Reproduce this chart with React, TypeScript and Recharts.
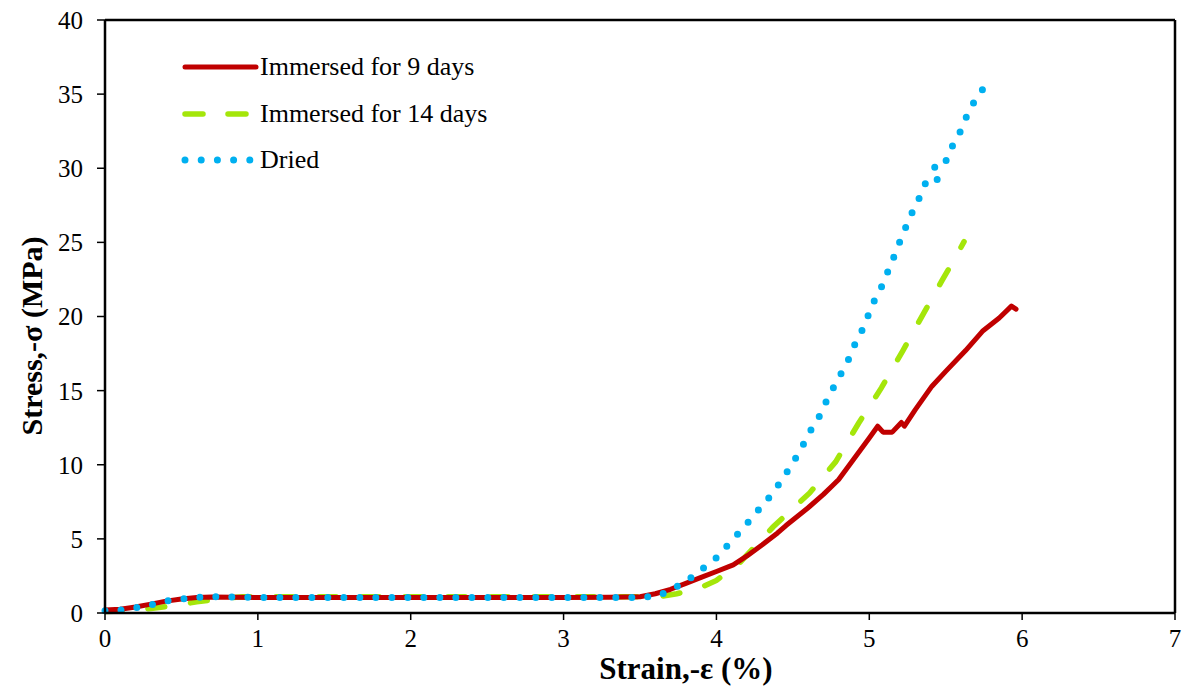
import {
  LineChart,
  Line,
  XAxis,
  YAxis,
  ReferenceLine,
} from "recharts"

// Immersed for 9 days
const red_x = [0, 0.1, 0.2, 0.3, 0.4, 0.5, 0.6, 0.7, 1.0, 1.5, 2.0, 2.5, 3.0, 3.3, 3.5, 3.6, 3.7, 3.8, 3.9, 4.0, 4.11, 4.2, 4.3, 4.4, 4.455, 4.5, 4.6, 4.7, 4.76, 4.8, 4.9, 5.0, 5.055, 5.09, 5.15, 5.21, 5.23, 5.3, 5.41, 5.5, 5.63, 5.74, 5.85, 5.93, 5.96]
const red_y = [0.2, 0.25, 0.4, 0.6, 0.8, 0.95, 1.05, 1.08, 1.05, 1.05, 1.05, 1.05, 1.05, 1.07, 1.1, 1.3, 1.6, 2.0, 2.4, 2.8, 3.25, 3.85, 4.6, 5.4, 5.9, 6.27, 7.1, 8.0, 8.6, 9.0, 10.4, 11.8, 12.6, 12.2, 12.2, 12.85, 12.6, 13.7, 15.3, 16.3, 17.7, 19.0, 19.9, 20.7, 20.5]

// Immersed for 14 days
const green_x = [0, 0.15, 0.3, 0.45, 0.6, 0.75, 0.9, 1.5, 2.0, 2.5, 3.0, 3.5, 3.65, 3.74, 3.8, 3.91, 4.0, 4.15, 4.37, 4.61, 4.78, 4.93, 5.08, 5.22, 5.36, 5.48, 5.57, 5.62]
const green_y = [0.1, 0.15, 0.3, 0.5, 0.75, 0.95, 1.1, 1.1, 1.1, 1.1, 1.1, 1.1, 1.15, 1.3, 1.45, 1.78, 2.2, 3.37, 5.8, 8.1, 10.2, 12.8, 15.2, 17.7, 20.3, 22.5, 24.1, 25.05]

// Dried
const blue_x = [0, 0.1, 0.2, 0.3, 0.4, 0.5, 0.65, 1.0, 1.5, 2.0, 2.5, 3.0, 3.5, 3.62, 3.72, 3.81, 3.89, 3.98, 4.05, 4.12, 4.19, 4.26, 4.33, 4.39, 4.455, 4.51, 4.56, 4.61, 4.67, 4.71, 4.76, 4.81, 4.86, 4.9, 4.95, 4.99, 5.03, 5.08, 5.12, 5.16, 5.2, 5.24, 5.28, 5.33, 5.37, 5.45, 5.41, 5.49, 5.52, 5.58, 5.62, 5.66, 5.72, 5.78, 5.8]
const blue_y = [0.15, 0.2, 0.35, 0.55, 0.8, 0.95, 1.1, 1.05, 1.05, 1.05, 1.05, 1.05, 1.05, 1.15, 1.67, 2.18, 2.86, 3.5, 4.3, 5.1, 5.9, 6.77, 7.6, 8.4, 9.4, 10.3, 11.2, 12.2, 13.2, 14.1, 15.1, 16.05, 17.0, 18.0, 19.0, 20.0, 21.0, 22.0, 23.0, 24.0, 25.05, 26.06, 27.0, 28.06, 29.05, 29.1, 30.06, 30.1, 31.1, 32.1, 33.1, 34.06, 35.0, 35.9, 36.1]

const xTicks = [0, 1, 2, 3, 4, 5, 6, 7]
const yTicks = [0, 5, 10, 15, 20, 25, 30, 35, 40]

const zip = (xs: number[], ys: number[]) => xs.map((x, i) => ({ x, y: ys[i] }))

const redData = zip(red_x, red_y)
const greenData = zip(green_x, green_y)
const blueData = zip(blue_x, blue_y)

const FONT = "'Liberation Serif', 'Times New Roman', serif"

const legendItems = [
  { label: "Immersed for 9 days", color: "#c00000", dash: undefined, width: 5 },
  { label: "Immersed for 14 days", color: "#a4e60a", dash: "18 25", width: 5.5 },
  { label: "Dried", color: "#00b0f0", dash: "0 16.2", width: 7 },
]

function ChartLegend() {
  return (
    <div
      style={{
        position: "absolute",
        left: 178,
        top: 44,
        fontFamily: FONT,
        fontSize: 26,
        color: "#000",
        lineHeight: 1,
      }}
    >
      {legendItems.map((it) => (
        <div key={it.label} style={{ display: "flex", alignItems: "center", height: 46.5 }}>
          <svg width={82} height={20}>
            <line
              x1={7}
              y1={10}
              x2={78}
              y2={10}
              stroke={it.color}
              strokeWidth={it.width}
              strokeDasharray={it.dash}
              strokeLinecap="round"
            />
          </svg>
          <span>{it.label}</span>
        </div>
      ))}
    </div>
  )
}

export default function App() {
  return (
    <div style={{ position: "absolute", left: 0, top: 0, width: 1189, height: 691, background: "#fff" }}>
      <LineChart
        width={1189}
        height={691}
        margin={{ top: 20, right: 14, bottom: 0, left: 0 }}
      >
        <XAxis
          dataKey="x"
          type="number"
          domain={[0, 7]}
          ticks={xTicks}
          allowDuplicatedCategory={false}
          height={78}
          axisLine={{ stroke: "#000", strokeWidth: 2.5 }}
          tickLine={{ stroke: "#000", strokeWidth: 1.5 }}
          tickSize={7}
          tickMargin={9}
          tick={{ fill: "#000", fontSize: 25, fontFamily: FONT }}
          label={{
            content: () => (
              <text x={686} y={679} textAnchor="middle" fontFamily={FONT} fontWeight="bold" fontSize={31} fill="#000">
                Strain,-ε (%)
              </text>
            ),
          }}
        />
        <YAxis
          dataKey="y"
          type="number"
          domain={[0, 40]}
          ticks={yTicks}
          width={105}
          axisLine={{ stroke: "#000", strokeWidth: 2.5 }}
          tickLine={{ stroke: "#000", strokeWidth: 1.5 }}
          tickSize={8}
          tickMargin={14}
          tick={{ fill: "#000", fontSize: 25, fontFamily: FONT }}
          label={{
            content: () => (
              <text
                x={42}
                y={336}
                transform="rotate(-90, 42, 336)"
                textAnchor="middle"
                fontFamily={FONT}
                fontWeight="bold"
                fontSize={30}
                fill="#000"
              >
                Stress,-σ (MPa)
              </text>
            ),
          }}
        />
        <ReferenceLine y={40} stroke="#000" strokeWidth={2.5} />
        <ReferenceLine x={7} stroke="#000" strokeWidth={2.5} />
        <Line
          data={greenData}
          dataKey="y"
          type="linear"
          stroke="#a4e60a"
          strokeWidth={5.5}
          strokeDasharray="17 26"
          strokeLinecap="round"
          dot={false}
          activeDot={false}
          isAnimationActive={false}
        />
        <Line
          data={redData}
          dataKey="y"
          type="linear"
          stroke="#c00000"
          strokeWidth={5}
          strokeLinecap="round"
          strokeLinejoin="round"
          dot={false}
          activeDot={false}
          isAnimationActive={false}
        />
        <Line
          data={blueData}
          dataKey="y"
          type="linear"
          stroke="#00b0f0"
          strokeWidth={7}
          strokeDasharray="0 16"
          strokeLinecap="round"
          dot={false}
          activeDot={false}
          isAnimationActive={false}
        />
      </LineChart>
      <ChartLegend />
    </div>
  )
}
